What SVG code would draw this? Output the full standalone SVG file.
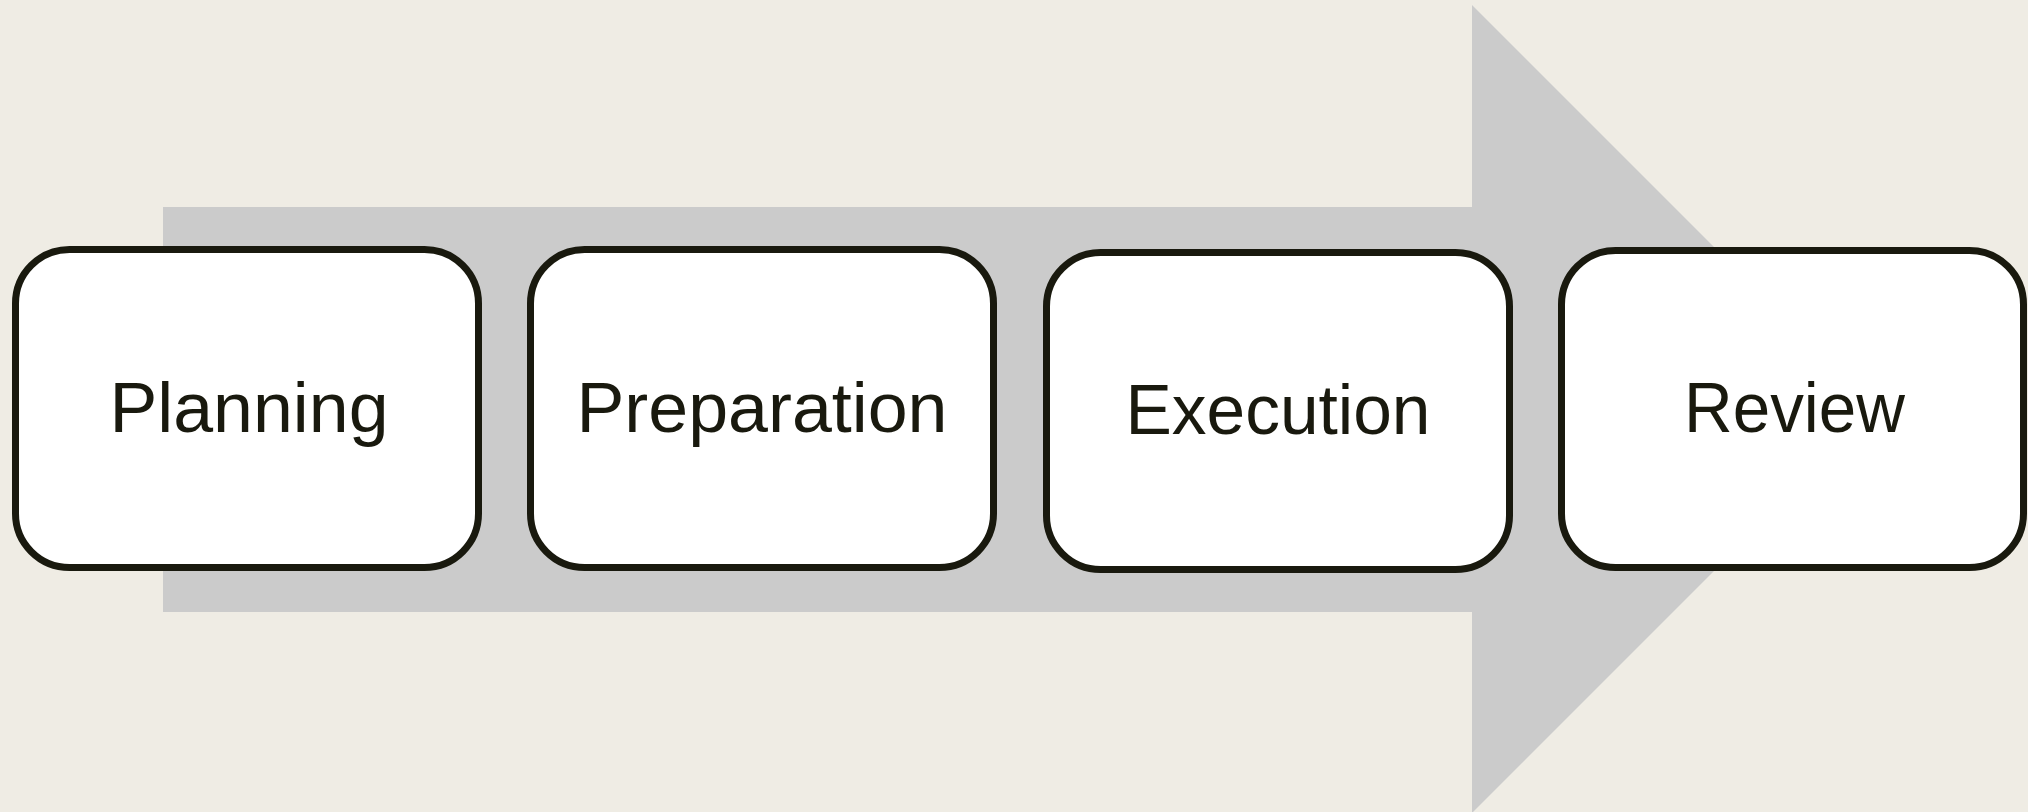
<svg xmlns="http://www.w3.org/2000/svg" width="2028" height="812" viewBox="0 0 2028 812">
<style>
.box{fill:#ffffff;stroke:#19190e;stroke-width:7}
.lbl{font-family:"Liberation Sans",Arial,sans-serif;font-size:71px;fill:#19190e;text-anchor:middle}
</style>
<rect x="0" y="0" width="2028" height="812" fill="#efece4"/>
<g id="connectors">
<polygon points="163,207 1472,207 1472,5 1876,409 1472,813 1472,612 163,612" fill="#cbcbcb"/>
</g>
<g id="planning">
<rect class="box" x="15.5" y="249.5" width="463" height="318" rx="54" ry="54"/>
<text class="lbl" x="249" y="432" textLength="279" lengthAdjust="spacingAndGlyphs">Planning</text>
</g>
<g id="preparation">
<rect class="box" x="530.5" y="249.5" width="463" height="318" rx="54" ry="54"/>
<text class="lbl" x="762" y="432" textLength="371" lengthAdjust="spacingAndGlyphs">Preparation</text>
</g>
<g id="execution">
<rect class="box" x="1046.5" y="252.5" width="463" height="317" rx="54" ry="54"/>
<text class="lbl" x="1278" y="434" textLength="305" lengthAdjust="spacingAndGlyphs">Execution</text>
</g>
<g id="review">
<rect class="box" x="1561.5" y="250.5" width="462" height="317" rx="54" ry="54"/>
<text class="lbl" x="1794.5" y="432" textLength="221" lengthAdjust="spacingAndGlyphs">Review</text>
</g>
</svg>
